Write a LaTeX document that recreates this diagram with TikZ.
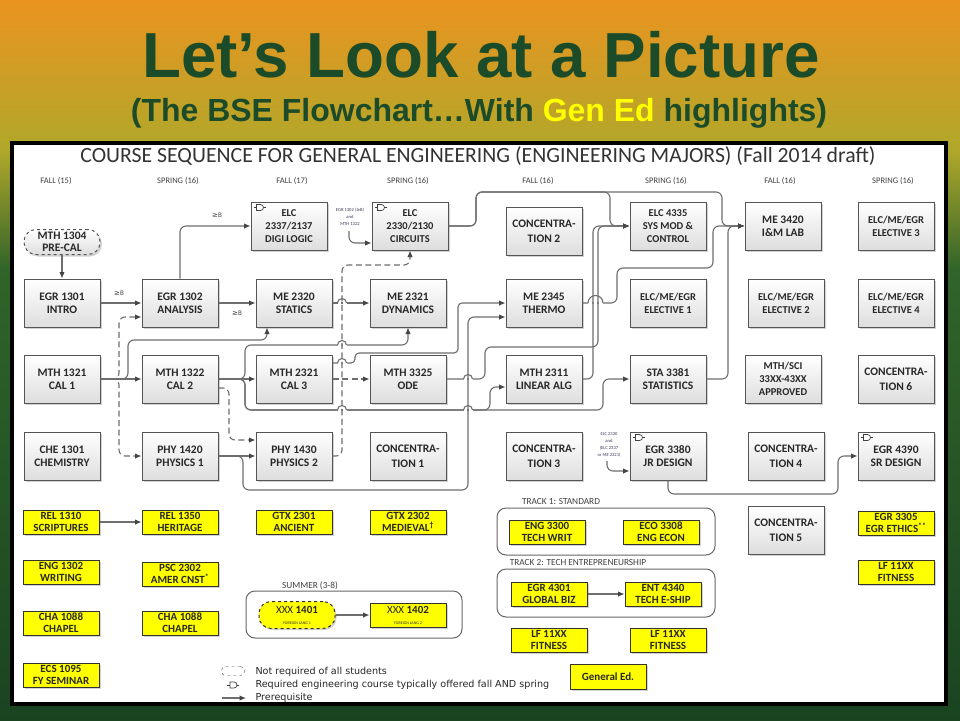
\documentclass[tikz,border=0pt]{standalone}
\usepackage{graphicx}
\usepackage{fontspec}
\setmainfont{Carlito}
\newfontfamily\titlefont{Liberation Sans}
\newfontfamily\legfont{DejaVu Sans}
\usetikzlibrary{arrows.meta,shadows}
\definecolor{titlegreen}{RGB}{28,75,42}
\definecolor{gyellow}{RGB}{255,255,0}
\definecolor{linegray}{RGB}{110,110,110}
\definecolor{tipgray}{RGB}{70,70,70}
\definecolor{boxedge}{RGB}{85,85,85}
\definecolor{txt}{RGB}{40,40,40}
\definecolor{bgorange}{RGB}{234,148,32}
\definecolor{bgmid}{RGB}{176,168,42}
\definecolor{bggreen}{RGB}{48,100,42}
\definecolor{bgdark}{RGB}{26,68,32}
\definecolor{annoc}{RGB}{60,60,90}
\newcommand\geB{{\legfont ≥}B}
\newcommand\hop[3]{%
  \fill[white] (#1-#3,#2-1.3) rectangle (#1-1.2,#2+1.3);
  \fill[white] (#1+1.2,#2-1.3) rectangle (#1+#3,#2+1.3);
  \draw[linegray,line width=1.1pt] (#1-#3,#2) arc[start angle=180,end angle=0,radius=#3 pt];}
\begin{document}
\begin{tikzpicture}[x=1pt,y=-1pt,
  box/.style={draw=boxedge, line width=1pt, top color=white, bottom color=black!13,
    minimum width=76pt, minimum height=48pt, inner sep=1pt, align=center, text=txt,
    font=\fontsize{11.5}{13}\selectfont\bfseries,
    drop shadow={shadow xshift=2pt,shadow yshift=-2pt,opacity=0.35}},
  sbox/.style={box, font=\fontsize{10.5}{13}\selectfont\bfseries},
  ybox/.style={draw=black!80, line width=1pt, fill=gyellow, minimum width=76pt,
    minimum height=24pt, inner sep=0pt, align=center, text=txt,
    font=\fontsize{11}{12}\selectfont\bfseries,
    drop shadow={shadow xshift=1.5pt,shadow yshift=-1.5pt,opacity=0.35}},
  conn/.style={draw=linegray, line width=1.1pt, rounded corners=6pt,
    -{Latex[length=6.5pt,width=5.5pt,color=tipgray]}},
  dconn/.style={conn, dash pattern=on 6pt off 3.5pt},
  hdr/.style={font=\fontsize{8.5}{9}\selectfont, text=black!75},
  lbl/.style={font=\fontsize{7}{8}\selectfont, text=black!75},
  glbl/.style={font=\fontsize{9.3}{10}\selectfont, text=black!75},
  anno/.style={font=\fontsize{4.6}{6.8}\selectfont, text=annoc, align=center},
  grp/.style={draw=black!60, line width=1pt, rounded corners=9pt, fill=white},
  legtxt/.style={font=\legfont\fontsize{9.6}{11}\selectfont, anchor=west, text=black!85},
  gatepic/.pic={
    \draw[black!75, line width=0.7pt, fill=white] (3,0) -- (7,0) arc[start angle=90, end angle=-90, radius=3pt] -- (3,6) -- cycle;
    \draw[black!75, line width=0.7pt] (0,3) -- (3,3) (10,3) -- (12,3);
  }
]
\useasboundingbox (0,0) rectangle (960,720);
% background
\shade[top color=bgorange, bottom color=bgmid] (0,0) rectangle (960,150);
\shade[top color=bgmid, bottom color=bggreen] (0,150) rectangle (960,270);
\shade[top color=bggreen, bottom color=bgdark] (0,270) rectangle (960,720);
% titles
\node[anchor=base, text=titlegreen, font=\titlefont\bfseries, inner sep=0] (title) at (481,77)
  {\resizebox{677pt}{!}{Let’s Look at a Picture}};
\node[anchor=base, text=titlegreen, font=\titlefont\bfseries, inner sep=0] (subtitle) at (479,121)
  {\resizebox{696pt}{!}{(The BSE Flowchart…With {\color{gyellow}Gen Ed} highlights)}};
% chart frame
\draw[line width=3.5pt, fill=white] (12,143) rectangle (946,704);
\node[anchor=base, text=black!80, inner sep=0] (ctitle) at (478,162)
  {\resizebox{795pt}{!}{COURSE SEQUENCE FOR GENERAL ENGINEERING (ENGINEERING MAJORS) (Fall 2014 draft)}};
% column headers
\node[hdr] (h1) at (56,181) {FALL (15)};
\node[hdr] (h2) at (178,181) {SPRING (16)};
\node[hdr] (h3) at (292,181) {FALL (17)};
\node[hdr] (h4) at (408,181) {SPRING (16)};
\node[hdr] (h5) at (538,181) {FALL (16)};
\node[hdr] (h6) at (666,181) {SPRING (16)};
\node[hdr] (h7) at (780,181) {FALL (16)};
\node[hdr] (h8) at (893,181) {SPRING (16)};
% group frames
\node[grp, minimum width=216pt, minimum height=47pt] (summer) at (354,614.5) {};
\node[glbl] (sumlbl) at (310,586) {SUMMER (3-8)};
\node[grp, minimum width=218pt, minimum height=47pt] (track1) at (606,531.5) {};
\node[glbl] (t1lbl) at (561,502) {TRACK 1: STANDARD};
\node[grp, minimum width=218pt, minimum height=48pt] (track2) at (606,593) {};
\node[glbl] (t2lbl) at (578,563) {TRACK 2: TECH ENTREPRENEURSHIP};
% gray boxes
\node[box, dashed, rounded corners=12pt, minimum height=25pt, inner sep=0pt,
  font=\fontsize{11.5}{12}\selectfont\bfseries] (mth1304) at (62,242) {MTH 1304\\PRE-CAL};
\node[box] (egr1301) at (62,303) {EGR 1301\\INTRO};
\node[box] (mth1321) at (62,379) {MTH 1321\\CAL 1};
\node[box] (che1301) at (62,456) {CHE 1301\\CHEMISTRY};
\node[box] (egr1302) at (180,303) {EGR 1302\\ANALYSIS};
\node[box] (mth1322) at (180,379) {MTH 1322\\CAL 2};
\node[box] (phy1420) at (180,456) {PHY 1420\\PHYSICS 1};
\node[sbox] (elc2337) at (289,226) {ELC\\2337/2137\\DIGI LOGIC};
\node[box] (me2320) at (294,303) {ME 2320\\STATICS};
\node[box] (mth2321) at (294,379) {MTH 2321\\CAL 3};
\node[box] (phy1430) at (294,456) {PHY 1430\\PHYSICS 2};
\node[sbox] (elc2330) at (410,226) {ELC\\2330/2130\\CIRCUITS};
\node[box] (me2321) at (408,303) {ME 2321\\DYNAMICS};
\node[box] (mth3325) at (408,379) {MTH 3325\\ODE};
\node[box] (conc1) at (408,456) {CONCENTRA-\\[2pt]TION 1};
\node[box] (conc2) at (544,231) {CONCENTRA-\\[2pt]TION 2};
\node[box] (me2345) at (544,303) {ME 2345\\THERMO};
\node[box] (mth2311) at (544,379) {MTH 2311\\LINEAR ALG};
\node[box] (conc3) at (544,456) {CONCENTRA-\\[2pt]TION 3};
\node[sbox] (elc4335) at (668,226) {ELC 4335\\SYS MOD \&\\CONTROL};
\node[sbox] (elec1) at (668,303) {ELC/ME/EGR\\ELECTIVE 1};
\node[box] (sta3381) at (668,379) {STA 3381\\STATISTICS};
\node[box] (egr3380) at (668,456) {EGR 3380\\JR DESIGN};
\node[box] (me3420) at (783,226) {ME 3420\\I\&M LAB};
\node[sbox] (elec2) at (786,303) {ELC/ME/EGR\\ELECTIVE 2};
\node[sbox] (mthsci) at (783,379) {MTH/SCI\\33XX-43XX\\APPROVED};
\node[box] (conc4) at (786,456) {CONCENTRA-\\[2pt]TION 4};
\node[box] (conc5) at (786,530) {CONCENTRA-\\[2pt]TION 5};
\node[sbox] (elec3) at (896,226) {ELC/ME/EGR\\ELECTIVE 3};
\node[sbox] (elec4) at (896,303) {ELC/ME/EGR\\ELECTIVE 4};
\node[box] (conc6) at (896,379) {CONCENTRA-\\[2pt]TION 6};
\node[box] (egr4390) at (896,456) {EGR 4390\\SR DESIGN};
% gates
\pic at ([xshift=3pt,yshift=-3pt]elc2337.north west) {gatepic};
\pic at ([xshift=3pt,yshift=-3pt]elc2330.north west) {gatepic};
\pic at ([xshift=3pt,yshift=-3pt]egr3380.north west) {gatepic};
\pic at ([xshift=3pt,yshift=-3pt]egr4390.north west) {gatepic};
% yellow boxes
\node[ybox] (rel1310) at (61,522) {REL 1310\\SCRIPTURES};
\node[ybox] (rel1350) at (180,522) {REL 1350\\HERITAGE};
\node[ybox] (gtx2301) at (294,522) {GTX 2301\\ANCIENT};
\node[ybox] (gtx2302) at (408,522) {GTX 2302\\MEDIEVAL\textsuperscript{†}};
\node[ybox] (eng1302) at (61,572) {ENG 1302\\WRITING};
\node[ybox] (psc2302) at (180,574) {PSC 2302\\AMER CNST\textsuperscript{*}};
\node[ybox] (cha1) at (61,623) {CHA 1088\\CHAPEL};
\node[ybox] (cha2) at (180,623) {CHA 1088\\CHAPEL};
\node[ybox] (ecs1095) at (61,675) {ECS 1095\\FY SEMINAR};
\node[ybox, dashed, rounded corners=12pt, minimum height=27pt] (xxx1401) at (297,615)
  {{\mdseries XXX} 1401\\[-1pt]{\fontsize{4}{5}\selectfont\mdseries FOREIGN LANG 1}};
\node[ybox] (xxx1402) at (408,615)
  {{\mdseries XXX} 1402\\[-1pt]{\fontsize{4}{5}\selectfont\mdseries FOREIGN LANG 2}};
\node[ybox] (eng3300) at (547,532) {ENG 3300\\TECH WRIT};
\node[ybox] (eco3308) at (661,532) {ECO 3308\\ENG ECON};
\node[ybox] (egr4301) at (549,594) {EGR 4301\\GLOBAL BIZ};
\node[ybox] (ent4340) at (663,594) {ENT 4340\\TECH E-SHIP};
\node[ybox] (lf1) at (549,640) {LF 11XX\\FITNESS};
\node[ybox] (lf2) at (668,640) {LF 11XX\\FITNESS};
\node[ybox, minimum height=25pt, font=\fontsize{11}{12}\selectfont\bfseries] (gened) at (608,677) {General Ed.};
\node[ybox] (egr3305) at (896,523) {EGR 3305\\EGR ETHICS\textsuperscript{**}};
\node[ybox] (lf3) at (896,572) {LF 11XX\\FITNESS};
% annotations
\node[anno] (annt1) at (350,217) {EGR 1302 (\geB)\\and\\MTH 1322};
\coordinate (ann1) at (349,231);
\node[anno] (annt2) at (609,445) {ELC 2330\\and\\(ELC 2337\\or ME 2321)};
\coordinate (ann2) at (607,461);
% dashed connectors
\draw[dconn] (mth1321.east) -- (119,379) -- (119,317) -- ([yshift=-14pt]egr1302.west);
\draw[dconn] (mth1321.east) -- (119,379) -- (119,456) -- (phy1420.west);
\draw[dconn] ([yshift=-9pt]mth1322.east) -- (229,388) -- (229,440) -- ([yshift=16pt]phy1430.west);
\draw[dconn] (mth2321.east) -- (mth3325.west);
\draw[dconn] (phy1430.east) -- (342,456) -- (342,265) -- (410,265) -- (elc2330.south);
% solid connectors
\draw[conn] (mth1304.south) -- (egr1301.north);
\draw[conn] (egr1301.east) -- (egr1302.west);
\node[lbl] (lb1) at (119,293) {\geB};
\draw[conn] (egr1302.north) |- (elc2337.west);
\node[lbl] (lb2) at (217,215) {\geB};
\draw[conn] (egr1302.east) -- (me2320.west);
\node[lbl] (lb3) at (237,313) {\geB};
\draw[conn] (mth1321.east) -- (mth1322.west);
\draw[conn] (mth1321.east) -- (128,379) -- (128,340) -- (267,340) -- ([xshift=-27pt]me2320.south);
\draw[conn] (mth1322.east) -- (mth2321.west);
\draw[conn] (mth1322.east) -- (245,379) -- (245,345) -- (408,345) -- (me2321.south);
\draw[conn] (mth1322.east) -- (245,379) -- (245,410) -- (490,410) -- (490,387) -- ([yshift=-8pt]mth2311.west);
\draw[conn] (mth1322.east) -- (245,379) -- (245,410) -- (603,410) -- (603,379) -- (sta3381.west);
\draw[conn] (phy1420.east) -- (phy1430.west);
\draw[conn] (phy1420.east) -- (243,456) -- (243,490) -- (468,490) -- (468,317) -- ([yshift=-14pt]me2345.west);
\draw[conn, rounded corners=4pt] ([yshift=16pt]mth2321.east) -- (355,363) -- (355,353) -- (458,353) -- (458,303) -- (me2345.west);
\draw[conn] (me2320.east) -- (me2321.west);
\draw[conn] (mth3325.east) -- (485,379) -- (485,347) -- (598,347) -- (598,226) -- (elc4335.west);
\draw[conn] (mth2311.east) -- (593,379) -- (593,226) -- (elc4335.west);
\draw[conn] (me2345.east) -- (617,303) -- (617,268) -- (713,268) -- (713,226) -- (me3420.west);
\draw[conn] (elc2330.east) -- (476,226) -- (476,192) -- (610,192) -- (610,226) -- (elc4335.west);
\draw[conn] (elc2330.east) -- (476,226) -- (476,192) -- (722,192) -- (722,226) -- (me3420.west);
\draw[conn] (sta3381.east) -- (728,379) -- (728,226) -- (me3420.west);
\draw[conn] (ann1) -- (349,243) -- ([yshift=-17pt]elc2330.west);
\draw[conn] (ann2) -- (607,471) -- ([yshift=-15pt]egr3380.west);
\draw[conn] (egr3380.south) -- (668,494) -- (838,494) -- (838,456) -- (egr4390.west);
\draw[conn] (rel1310) -- (rel1350);
\draw[conn] (xxx1401) -- (xxx1402);
\draw[conn] (egr4301) -- (ent4340);
% hops
\hop{342}{303}{4.5}
\hop{342}{345}{4.5}
\hop{342}{363}{4.5}
\hop{342}{410}{4.5}
\hop{468}{410}{4.5}
\hop{468}{379}{4.5}
\fill[white] (588,301.7) rectangle (592,304.3);
\fill[white] (594.2,301.7) rectangle (596.8,304.3);
\fill[white] (599.2,301.7) rectangle (603,304.3);
\draw[linegray,line width=1.1pt] (588,303) arc[start angle=180,end angle=0,radius=7.5pt];
% legend
\node[draw=black!70, dashed, rounded corners=4pt, minimum width=23pt, minimum height=9pt, inner sep=0pt, fill=white] (legdash) at (233,671) {};
\pic at (227,682) {gatepic};
\coordinate (legA) at (222,698);
\coordinate (legB) at (246,698);
\draw[conn] (legA) -- (legB);
\node[legtxt] (leg1) at (252,672) {Not required of all students};
\node[legtxt] (leg2) at (252,685) {Required engineering course typically offered fall AND spring};
\node[legtxt] (leg3) at (252,698) {Prerequisite};
\end{tikzpicture}
\end{document}
